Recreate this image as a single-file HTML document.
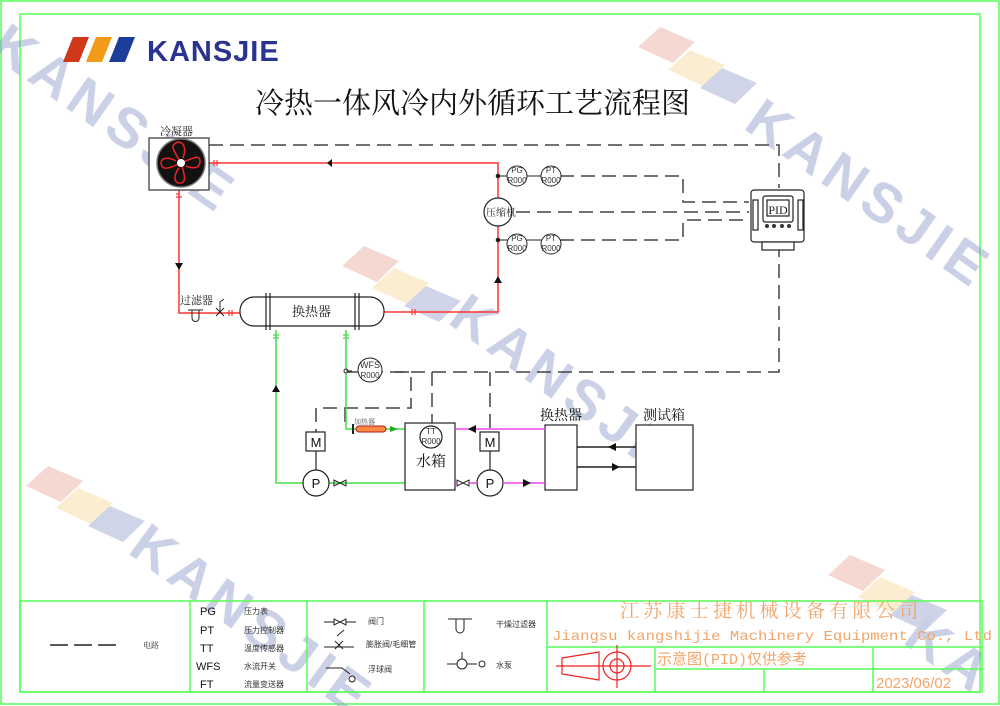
<!DOCTYPE html>
<html><head><meta charset="utf-8"><style>
html,body{margin:0;padding:0;background:#fff;width:1000px;height:706px;overflow:hidden}
svg{display:block;overflow:hidden}
text{font-family:"Liberation Sans","Noto Sans CJK SC",sans-serif}
.s{font-family:"Liberation Serif","Noto Serif CJK SC",serif}
.m{font-family:"Liberation Mono",monospace}
</style></head><body>
<svg width="1000" height="706" viewBox="0 0 1000 706" xmlns="http://www.w3.org/2000/svg">
<defs><clipPath id="c"><rect x="0" y="0" width="1000" height="706"/></clipPath></defs>
<rect x="0" y="0" width="1000" height="706" fill="#fff"/>
<rect x="1" y="1" width="998" height="703" fill="none" stroke="#5f5" stroke-width="1.5"/>
<rect x="20" y="14" width="960" height="678" fill="none" stroke="#5f5" stroke-width="1.5"/>

<!-- watermarks -->
<g opacity="0.45" clip-path="url(#c)">
 <g transform="translate(10,20) rotate(35)"><text x="0" y="40" font-size="56" font-weight="bold" fill="#8a96c8" letter-spacing="6">KANSJIE</text></g>
 <g transform="translate(470,290) rotate(36)"><text x="0" y="40" font-size="56" font-weight="bold" fill="#8a96c8" letter-spacing="6">KANSJIE</text></g>
 <g transform="translate(150,520) rotate(36)"><text x="0" y="40" font-size="56" font-weight="bold" fill="#8a96c8" letter-spacing="6">KANSJIE</text></g>
 <g transform="translate(765,95) rotate(35)"><text x="0" y="40" font-size="56" font-weight="bold" fill="#8a96c8" letter-spacing="6">KANSJIE</text></g>
 <g transform="translate(925,610) rotate(36)"><text x="0" y="40" font-size="56" font-weight="bold" fill="#8a96c8" letter-spacing="6">KA</text></g>
 <g fill-opacity="0.9">
  <polygon points="638,47 660,27 695,42 673,63" fill="#e9a090"/>
  <polygon points="668,70 690,50 725,65 703,86" fill="#f5d490"/>
  <polygon points="700,88 722,68 757,83 735,104" fill="#8a96c8"/>
  <polygon points="342,266 364,246 399,261 377,282" fill="#e9a090"/>
  <polygon points="372,288 394,268 429,283 407,304" fill="#f5d490"/>
  <polygon points="404,306 426,286 461,301 439,322" fill="#8a96c8"/>
  <polygon points="26,486 48,466 83,481 61,502" fill="#e9a090"/>
  <polygon points="56,508 78,488 113,503 91,524" fill="#f5d490"/>
  <polygon points="88,526 110,506 145,521 123,542" fill="#8a96c8"/>
  <polygon points="828,575 850,555 885,570 863,591" fill="#e9a090"/>
  <polygon points="858,597 880,577 915,592 893,613" fill="#f5d490"/>
  <polygon points="890,615 912,595 947,610 925,631" fill="#8a96c8"/>
 </g>
</g>

<!-- logo -->
<polygon points="63,62 73,37 89,37 79,62" fill="#d0381a"/>
<polygon points="86,62 96,37 112,37 102,62" fill="#f29a1a"/>
<polygon points="109,62 119,37 135,37 125,62" fill="#1c3d9a"/>
<text x="147" y="61" font-size="29" font-weight="bold" fill="#2b3390" letter-spacing="1">KANSJIE</text>
<text x="255" y="113" font-size="29" fill="#111" class="s">冷热一体风冷内外循环工艺流程图</text>

<!-- dashed electrical lines -->
<g fill="none" stroke="#444" stroke-width="1.5" stroke-dasharray="14,7">
 <path d="M209,145 H779 V188"/>
 <path d="M779,243 V372 H342"/>
 <path d="M560,176 H683 V202 H749"/>
 <path d="M516,212 H749"/>
 <path d="M560,240 H683 V220 H749"/>
 <path d="M395,372 H411 V408 H316 V432"/>
 <path d="M432,372 V428"/>
 <path d="M490,372 V432"/>
 <path d="M345,408 V428"/>
</g>

<!-- red refrigerant -->
<g fill="none" stroke="#f33" stroke-width="1.5">
 <path d="M209,163 H498 V312 H383"/>
 <path d="M179,190 V313 H262"/>
</g>
<g fill="#111">
 <polygon points="327,163 332,159 332,167"/>
 <polygon points="179,270 175,263 183,263"/>
 <polygon points="498,276 494,283 502,283"/>
</g>
<g stroke="#f33" stroke-width="1.2"><path d="M214,160v6M217,160v6M179,194h-3M176,197h6M412,309v6M415,309v6M229,310v6M232,310v6"/></g>

<!-- condenser -->
<text x="160" y="135" font-size="11" class="s" fill="#222">冷凝器</text>
<rect x="149" y="138" width="60" height="52" fill="#fff" stroke="#333" stroke-width="1.2"/>
<circle cx="181" cy="163" r="24" fill="#111" stroke="#777" stroke-width="1.5"/>
<g fill="none" stroke="#e22" stroke-width="1.5">
 <path d="M181,163 C172,148 170,145 178,142 C185,142 186,150 183,158"/>
 <path d="M181,163 C197,156 200,155 200,162 C199,170 190,168 186,166"/>
 <path d="M181,163 C186,178 186,184 178,183 C172,180 176,172 179,168"/>
 <path d="M181,163 C166,170 162,170 161,163 C162,156 171,158 176,161"/>
</g>
<circle cx="181" cy="163" r="4" fill="#fff"/>

<!-- compressor and sensors -->
<circle cx="498" cy="212" r="14" fill="#fff" stroke="#222" stroke-width="1.2"/>
<text x="486" y="216" font-size="10" class="s" fill="#222">压缩机</text>
<g stroke="#222" stroke-width="1" fill="#fff">
 <path d="M498,176 H545 M498,240 H545"/>
 <circle cx="498" cy="176" r="1.8" fill="#222"/><circle cx="498" cy="240" r="1.8" fill="#222"/>
 <circle cx="517" cy="176" r="10"/><circle cx="551" cy="176" r="10"/>
 <circle cx="517" cy="244" r="10"/><circle cx="551" cy="244" r="10"/>
</g>
<g font-size="8" fill="#333" text-anchor="middle">
 <text x="517" y="173">PG</text><text x="517" y="183">R000</text>
 <text x="551" y="173">PT</text><text x="551" y="183">R000</text>
 <text x="517" y="241">PG</text><text x="517" y="251">R000</text>
 <text x="551" y="241">PT</text><text x="551" y="251">R000</text>
</g>

<!-- PID -->
<g stroke="#222" stroke-width="1.2" fill="#fff">
 <rect x="751" y="190" width="53" height="52" rx="3"/>
 <rect x="763" y="196" width="30" height="26" rx="2"/>
 <rect x="767" y="200" width="22" height="16"/>
 <rect x="762" y="242" width="32" height="8"/>
 <rect x="753" y="200" width="5" height="30"/><rect x="798" y="200" width="5" height="30"/>
</g>
<text x="778" y="214" font-size="12" text-anchor="middle" class="s" fill="#222">PID</text>
<g fill="#333"><circle cx="767" cy="226" r="2"/><circle cx="774" cy="226" r="2"/><circle cx="782" cy="226" r="2"/><circle cx="789" cy="226" r="2"/></g>

<!-- filter and valve -->
<text x="180" y="304" font-size="11" class="s" fill="#222">过滤器</text>
<path d="M192,310 v8 a3,3 0 0 0 7,0 v-8" fill="none" stroke="#222"/>
<path d="M188,310 h15" stroke="#222"/>
<path d="M216,308 l8,8 M216,316 l8,-8 M220,312 v-10 l4,-3" stroke="#222" fill="none"/>

<!-- heat exchanger top -->
<rect x="240" y="297" width="144" height="29" rx="14" fill="#fff" stroke="#222" stroke-width="1.2"/>
<path d="M266,293 v37 M270,293 v37 M355,293 v37 M359,293 v37" stroke="#222" stroke-width="1.2"/>
<text x="292" y="316" font-size="13" class="s" fill="#222">换热器</text>

<!-- green water -->
<g fill="none" stroke="#4d4" stroke-width="1.5">
 <path d="M276,330 V483 H303"/>
 <path d="M329,483 H405"/>
 <path d="M346,330 V429 H405"/>
</g>
<g stroke="#4d4" stroke-width="1.2"><path d="M273,335h6M273,338h6M343,335h6M343,338h6"/></g>
<polygon points="276,385 272,392 280,392" fill="#111"/>
<circle cx="346" cy="371" r="2" fill="#fff" stroke="#222"/>
<path d="M346,371 H352" stroke="#222"/>
<circle cx="370" cy="370" r="12" fill="#fff" stroke="#222"/>
<text x="370" y="368" font-size="9" text-anchor="middle" fill="#333">WFS</text>
<text x="370" y="378" font-size="8" text-anchor="middle" fill="#333">R000</text>

<!-- heater -->
<text x="354" y="424" font-size="7" fill="#555" class="s">加热器</text>
<rect x="356" y="426" width="30" height="6" rx="3" fill="#f84" stroke="#a22"/>
<path d="M353,424 v10" stroke="#222" stroke-width="2"/>
<polygon points="390,426 398,429 390,432" fill="#2a2"/>

<!-- M P pumps -->
<g stroke="#222" stroke-width="1.2" fill="#fff">
 <rect x="306" y="432" width="19" height="19"/>
 <path d="M316,451 V470"/>
 <circle cx="316" cy="483" r="13"/>
 <rect x="480" y="432" width="19" height="19"/>
 <path d="M490,451 V470"/>
 <circle cx="490" cy="483" r="13"/>
 <rect x="405" y="423" width="50" height="67"/>
 <circle cx="431" cy="437" r="11"/>
 <rect x="545" y="425" width="32" height="65"/>
 <rect x="636" y="425" width="57" height="65"/>
</g>
<g font-size="13" text-anchor="middle" fill="#111">
 <text x="316" y="447">M</text><text x="316" y="488">P</text>
 <text x="490" y="447">M</text><text x="490" y="488">P</text>
</g>
<text x="431" y="434" font-size="8" text-anchor="middle" fill="#333">TT</text>
<text x="431" y="444" font-size="8" text-anchor="middle" fill="#333">R000</text>
<text x="431" y="466" font-size="15" text-anchor="middle" class="s" fill="#111">水箱</text>
<text x="561" y="420" font-size="14" text-anchor="middle" class="s" fill="#111">换热器</text>
<text x="664" y="420" font-size="14" text-anchor="middle" class="s" fill="#111">测试箱</text>
<g stroke="#222" fill="none" stroke-width="1"><path d="M334,480 v6 l12,-6 v6 z"/><path d="M457,480 v6 l12,-6 v6 z"/></g>

<!-- magenta -->
<g stroke="#e4e" stroke-width="1.5" fill="none">
 <path d="M455,429 H545"/>
 <path d="M455,483 H457 M469,483 H477 M503,483 H545"/>
</g>
<polygon points="468,429 476,425 476,433" fill="#111"/>
<polygon points="523,479 531,483 523,487" fill="#111"/>
<g stroke="#222" stroke-width="1.5"><path d="M577,447 H636 M577,467 H636"/></g>
<polygon points="608,447 616,443 616,451" fill="#111"/>
<polygon points="612,463 620,467 612,471" fill="#111"/>

<!-- bottom table -->
<g stroke="#5f5" stroke-width="1.5" fill="none">
 <rect x="20" y="601" width="962" height="91"/>
 <path d="M190,601 V692 M307,601 V692 M424,601 V692 M547,601 V692"/>
 <path d="M547,647 H982 M655,647 V692 M764,669 V692 M873,647 V692 M655,669 H982"/>
</g>
<path d="M50,645 h18 M74,645 h18 M98,645 h18" stroke="#222" stroke-width="1.5"/>
<text x="143" y="648" font-size="8" fill="#333" class="s">电路</text>
<g font-size="11" fill="#111">
 <text x="200" y="615">PG</text><text x="200" y="634">PT</text><text x="200" y="652">TT</text><text x="196" y="670">WFS</text><text x="200" y="688">FT</text>
</g>
<g font-size="8" fill="#333" class="s">
 <text x="244" y="614">压力表</text><text x="244" y="633">压力控制器</text><text x="244" y="651">温度传感器</text><text x="244" y="669">水流开关</text><text x="244" y="687">流量变送器</text>
 <text x="368" y="624">阀门</text><text x="366" y="647">膨胀阀/毛细管</text><text x="368" y="672">浮球阀</text>
 <text x="496" y="627">干燥过滤器</text><text x="496" y="668">水泵</text>
</g>
<g stroke="#222" fill="none">
 <path d="M324,622 h10 M346,622 h10 M334,619 v6 l12,-6 v6 z"/>
 <path d="M324,647 h30 M337,636 l7,-6 M335,641 l8,8 M335,649 l8,-8"/>
 <path d="M326,668 h16 l8,6 M352,676 a3,3 0 1 0 0.1,0"/>
 <path d="M448,619 h24 M456,619 v10 a4,4 0 0 0 8,0 v-10"/>
 <path d="M447,664 h10 M467,664 h10 M462,652 v7"/>
 <circle cx="462" cy="664" r="5"/><circle cx="482" cy="664" r="3"/>
</g>
<text x="620" y="617" font-size="19" fill="#f2a56a" class="s" textLength="298">江苏康士捷机械设备有限公司</text>
<text x="552" y="640" font-size="14" fill="#f2a56a" class="m" textLength="440" lengthAdjust="spacingAndGlyphs">Jiangsu kangshijie Machinery Equipment Co., Ltd</text>
<text x="657" y="664" font-size="15" fill="#f2a56a" class="m">示意图(PID)仅供参考</text>
<text x="876" y="688" font-size="15" fill="#f2a56a">2023/06/02</text>
<g stroke="#e22" fill="none" stroke-width="1.2">
 <path d="M562,658 L599,652 V680 L562,674 Z"/>
 <path d="M556,666 H651 M617,645 V688"/>
 <circle cx="617" cy="666" r="14"/><circle cx="617" cy="666" r="7"/>
</g>
</svg>
</body></html>
